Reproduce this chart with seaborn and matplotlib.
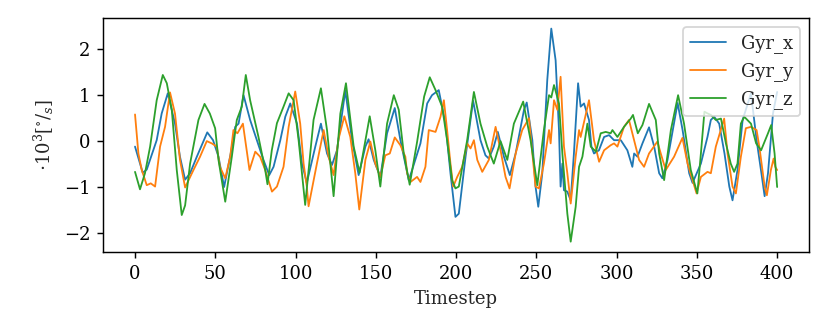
import numpy as np
import pandas as pd
import matplotlib
matplotlib.use("Agg")
import matplotlib.pyplot as plt
import seaborn as sns

gyr_x_t = [0, 4.8, 7.3, 13.5, 16.6, 20.4, 24.9, 28, 31.2, 34.3, 38.5, 45, 48.6, 52, 55.5, 59.6,
           62.4, 64.5, 67.6, 71.7, 75.9, 80, 83.6, 86.3, 90.5, 93.6, 96.7, 100.9, 104, 107,
           112.3, 115.8, 119.6, 122.7, 125.8, 131, 135.2, 139.3, 143.5, 145.5, 148.7, 152.8,
           157, 161.8, 165.3, 170.5, 172.6, 177.8, 182, 185, 189.2, 193.4, 196.5, 199.6, 201.7,
           205.9, 210.6, 215.2, 218.3, 220.4, 223.5, 226, 229.8, 233.5, 237.1, 242.3, 244,
           247.5, 249.5, 251.2, 253.7, 256.8, 259.3, 262, 264.1, 265.1, 266.2, 267.2, 269.3,
           271.4, 273.4, 276, 277.6, 279.7, 282.8, 284.3, 285.9, 289, 292.2, 295.3, 298.4,
           302.6, 306.7, 309.8, 310.9, 313, 316.1, 320.2, 323.4, 326.5, 328.5, 331.7, 338,
           341.1, 345.2, 347.3, 352.5, 356.6, 358.7, 360.8, 363.9, 367.2, 370.2, 372.2, 375.3,
           378.5, 383.7, 387.2, 390.2, 392.2, 394.3, 397.4, 400]
gyr_x = [-0.12, -0.69, -0.62, 0.02, 0.6, 1.04, 0.38, -0.34, -0.84, -0.7, -0.34, 0.19, 0.02, -0.34,
         -1.0, -0.27, 0.31, 0.38, 1.0, 0.46, 0.02, -0.41, -0.74, -0.56, 0.02, 0.53, 0.82, 0.38,
         -0.49, -0.91, -0.12, 0.38, -0.27, -0.52, -0.2, 1.1, 0.02, -0.74, -0.12, 0.04, -0.41,
         -0.78, 0.17, 0.72, 0.02, -0.85, -0.63, -0.05, 0.82, 1.0, 1.11, 0.38, -0.7, -1.65, -1.58,
         -0.34, 0.88, 0.02, -0.31, -0.38, -0.12, 0.2, -0.34, -0.74, -0.27, 0.68, 0.84, 0.02,
         -0.99, -1.43, -0.7, 1.33, 2.45, 1.76, 0.24, -0.99, -0.49, -1.07, -1.1, -1.29, -0.27,
         1.26, 0.75, 0.82, 0.46, -0.12, -0.27, -0.2, 0.09, 0.13, 0.02, 0.02, -0.2, -0.56, -0.27,
         -0.34, -0.05, 0.3, -0.12, -0.7, -0.81, -0.41, 0.83, 0.24, -0.7, -0.91, -0.49, 0.09,
         0.46, 0.53, 0.38, -0.27, -0.99, -1.29, -0.63, 0.46, 1.04, 0.02, -0.7, -1.2, -0.7, 0.6,
         1.07]

gyr_y_t = [0, 2.1, 4.2, 7.3, 9.8, 12.5, 15.6, 18.7, 21.8, 24.9, 28, 31.2, 36.4, 40.5, 44.7, 47.8,
           50.9, 52.9, 56.2, 59.3, 61.3, 63.8, 67.2, 71.3, 74.9, 77.9, 81.1, 85.3, 88.4, 92.5,
           95.7, 99.8, 102.9, 105, 107, 108.1, 113.3, 117.5, 120.6, 123.7, 126.8, 130.4, 134.1,
           137.2, 139.7, 143.5, 146.6, 149.7, 152.8, 155.9, 158.7, 161.8, 165.3, 168.4, 169.5,
           171.6, 175.7, 177.8, 180.9, 183, 187.2, 190.3, 192.4, 194.4, 196.5, 198.2, 200.7,
           203.8, 206.9, 209, 211.1, 213.2, 216.3, 220.4, 224.6, 227.7, 230.8, 233.3, 237.1,
           241.2, 245.4, 247.5, 249.5, 251.6, 254.7, 257.9, 258.9, 261, 263.1, 265.1, 267.2,
           269.3, 271.4, 274.5, 276.6, 277.6, 282.8, 285.9, 289.1, 292.2, 296.3, 298.4, 300.5,
           304.6, 307.7, 310.9, 314, 317.1, 320.2, 325.4, 327.5, 330.6, 335.8, 341, 344.2, 349.8,
           352.5, 356.6, 358.7, 361.8, 367, 369.1, 372.2, 374.3, 377.4, 380.5, 383.7, 387.2,
           388.9, 392.2, 393.6, 396.1, 397.8, 398.8, 400]
gyr_y = [0.58, -0.27, -0.63, -0.96, -0.92, -0.99, -0.12, 0.31, 1.06, 0.6, -0.41, -1.01, -0.63,
         -0.34, 0.0, -0.05, -0.12, -0.56, -0.81, -0.34, 0.24, 0.17, 0.38, -0.63, -0.23, -0.34,
         -0.63, -1.1, -0.99, -0.56, 0.31, 1.08, 0.38, -0.49, -0.99, -1.42, -0.49, 0.24, -0.34,
         -0.74, 0.05, 0.54, 0.09, -0.7, -1.49, -0.41, -0.01, -0.49, -0.78, -0.31, -0.27, 0.08,
         -0.09, -0.34, -0.7, -0.89, -0.78, -0.89, -0.56, 0.24, 0.2, 0.53, 0.89, 0.24, -0.49,
         -0.99, -0.78, -0.56, -0.05, -0.16, 0.02, -0.41, -0.67, -0.41, 0.31, -0.2, -0.78, -1.03,
         -0.27, 0.24, 0.5, -0.27, -0.99, -1.03, -0.49, 0.24, -0.05, 0.89, 0.68, 1.4, -0.12,
         -0.7, -1.36, -0.34, 0.24, 0.09, 0.89, 0.02, -0.45, -0.2, -0.09, -0.05, -0.12, 0.31,
         0.46, 0.02, -0.41, -0.56, -0.27, -0.01, -0.27, -0.63, -0.34, 0.07, -0.49, -1.14, -0.78,
         -0.67, -0.7, -0.12, 0.49, -0.27, -0.99, -1.14, -0.34, 0.28, 0.31, 0.24, -0.12, -0.99,
         -1.18, -0.63, -0.38, -0.56, -0.63]

gyr_z_t = [0, 3.1, 6.2, 9.4, 13.5, 17.3, 19.8, 22.9, 26, 29.1, 31.2, 34.3, 39.5, 43.3, 46.6, 49.9,
           52, 56.2, 60.3, 63.4, 66.5, 69, 71.7, 76.9, 81.1, 82.5, 85.2, 88.4, 92.5, 95.7, 98.8,
           101.9, 106, 111.2, 115.8, 119.6, 123.7, 127.9, 131.4, 136.2, 139.9, 146.2, 149.7,
           152.8, 157, 161.2, 164.3, 167.4, 171.1, 175.7, 180.1, 183.6, 187.2, 191.3, 194.4,
           197.5, 199.6, 201.7, 206.9, 211.1, 215.2, 219.4, 223.5, 227.7, 231.9, 236, 241.8,
           246.4, 250.6, 254.7, 257.9, 259.3, 261, 264.1, 266.2, 269.3, 271.4, 274.5, 276.6,
           278.7, 281.8, 283.9, 287.1, 290.1, 293.2, 296.3, 297.4, 300.5, 304.6, 308.8, 310.2,
           313.2, 316.1, 320.2, 324.4, 326.5, 329.6, 333.8, 338.3, 342, 346.2, 350.3, 352.5,
           354.7, 356.8, 358.7, 361.8, 365, 368.1, 371.1, 373.2, 375.3, 377.4, 379.5, 383.7,
           386.9, 390, 394.3, 396.3, 398.4, 400]
gyr_z = [-0.67, -1.05, -0.7, -0.12, 0.89, 1.44, 1.26, 0.68, -0.63, -1.61, -1.4, -0.49, 0.46, 0.81,
         0.6, 0.28, -0.41, -1.32, -0.34, 0.46, 0.75, 1.44, 0.89, 0.09, -0.63, -0.94, -0.2, 0.39,
         0.75, 1.04, 0.89, 0.02, -1.39, 0.46, 1.15, 0.24, -1.2, 0.6, 1.26, -0.12, -0.69, 0.54,
         -0.2, -0.99, 0.38, 1.0, 0.68, -0.27, -0.95, -0.02, 0.97, 1.39, 1.11, 0.75, 0.02, -0.85,
         -1.03, -0.99, 0.02, 1.07, 0.38, -0.12, -0.49, 0.0, -0.41, 0.38, 0.86, 0.02, -0.96, 0.24,
         1.0, 0.95, 1.22, 0.82, -0.27, -1.58, -2.19, -1.43, -0.56, -0.34, 0.38, -0.12, -0.23,
         0.17, 0.2, 0.17, 0.24, 0.09, 0.31, 0.49, 0.57, 0.17, 0.35, 0.81, 0.46, -0.27, -0.85,
         0.24, 1.0, 0.38, -0.63, -1.14, -0.27, 0.64, 0.6, 0.57, 0.46, 0.49, -0.05, -0.49, -0.67,
         -0.49, 0.38, 0.53, 0.38, -0.05, -0.2, 0.17, 0.35, -0.27, -1.0]

series_names = ["Gyr_x", "Gyr_y", "Gyr_z"]

frames = []
for name, t, v in zip(series_names, [gyr_x_t, gyr_y_t, gyr_z_t], [gyr_x, gyr_y, gyr_z]):
    frames.append(pd.DataFrame({"Timestep": t, "value": v, "sensor": name}))
df = pd.concat(frames, ignore_index=True)

sns.set_style("ticks")
plt.rcParams["font.family"] = ["DejaVu Serif"]
plt.rcParams["mathtext.fontset"] = "dejavuserif"
plt.rcParams["font.size"] = 10
plt.rcParams["axes.edgecolor"] = "black"
plt.rcParams["axes.linewidth"] = 0.8
plt.rcParams["xtick.color"] = "black"
plt.rcParams["ytick.color"] = "black"
plt.rcParams["xtick.major.size"] = 3.5
plt.rcParams["ytick.major.size"] = 3.5
plt.rcParams["xtick.major.width"] = 0.8
plt.rcParams["ytick.major.width"] = 0.8

dpi = 130
fig, ax = plt.subplots(figsize=(830 / dpi, 332 / dpi), dpi=dpi)
fig.subplots_adjust(left=0.124, right=0.975, top=0.946, bottom=0.24)

sns.lineplot(data=df, x="Timestep", y="value", hue="sensor", estimator=None, sort=True,
             palette=["#1f77b4", "#ff7f0e", "#2ca02c"], linewidth=1.0, ax=ax)

ax.set_xticks(np.arange(0, 401, 50))
ax.set_yticks([-2, -1, 0, 1, 2])
ax.set_xlabel("Timestep")
ax.set_ylabel(r"$\cdot 10^3 [^{\circ}/_{s}]$")
sns.move_legend(ax, "upper right", title=None)

plt.savefig("out.png", dpi=dpi)
